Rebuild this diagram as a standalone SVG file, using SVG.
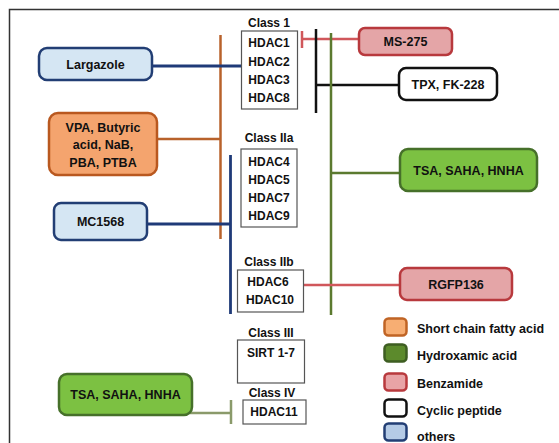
<svg xmlns="http://www.w3.org/2000/svg" width="559" height="443" viewBox="0 0 559 443">
<style>
text{font-family:"Liberation Sans",Arial,sans-serif;font-weight:bold;fill:#111;}
.cls{font-size:12px;text-anchor:middle;}
.hd{font-size:12px;text-anchor:middle;}
.lab{font-size:12.5px;text-anchor:middle;}
.leg{font-size:12.5px;}
.cbox{fill:#fff;stroke:#555;stroke-width:1.2;}
.orange{fill:#f4a46e;stroke:#b9581f;stroke-width:2.5;}
.green{fill:#7cc142;stroke:#46702a;stroke-width:2.5;}
.red{fill:#e4a5a7;stroke:#b8393d;stroke-width:2.5;}
.black{fill:#fff;stroke:#111;stroke-width:2.5;}
.blue{fill:#d5e6f3;stroke:#223e74;stroke-width:2.5;}
.lgreen{fill:#5c8a2c;stroke:#3e5e22;stroke-width:2.5;}
.lblue{fill:#b5cbe6;stroke:#223e74;stroke-width:2.5;}
.lred{fill:#e8a3a6;stroke:#b8393d;stroke-width:2.5;}
.lorange{fill:#f7ae73;stroke:#c06425;stroke-width:2.5;}
.c-or{stroke:#b8622b;stroke-width:2.5;fill:none;}
.c-bl{stroke:#1f3a78;stroke-width:2.8;fill:none;}
.c-gr{stroke:#5b7a2f;stroke-width:2.5;fill:none;}
.c-grl{stroke:#8a9a6a;stroke-width:2.5;fill:none;}
.c-rd{stroke:#d0575b;stroke-width:2.5;fill:none;}
.c-bk{stroke:#111;stroke-width:2.5;fill:none;}
</style>
<rect width="559" height="443" fill="#fff"/>
<path d="M9.5 443 V9.5 H559" fill="none" stroke="#333" stroke-width="1.5"/>

<g id="connectors">
  <path class="c-or" d="M220.5 35 V239"/>
  <path class="c-or" d="M157 139 H220.5"/>
  <path class="c-bl" d="M152 66 H245"/>
  <path class="c-bl" d="M245 40 V84"/>
  <path class="c-bl" d="M147 224 H230.5"/>
  <path class="c-bl" d="M230.5 155 V314"/>
  <path class="c-rd" d="M302 39 H359"/>
  <path class="c-rd" d="M302 31 V48"/>
  <path class="c-bk" d="M316 29 V113"/>
  <path class="c-bk" d="M316 85 H399"/>
  <path class="c-gr" d="M331 33 V315"/>
  <path class="c-gr" d="M331 173 H400"/>
  <path class="c-rd" d="M296 285 H400"/>
  <path class="c-rd" d="M296 275 V291"/>
  <path class="c-grl" d="M182 413 H231"/>
  <path class="c-grl" d="M231 400 V424"/>
</g>

<g id="class1">
  <text class="cls" x="269" y="27">Class 1</text>
  <rect class="cbox" x="241.5" y="31" width="56" height="78"/>
  <text class="hd" x="269" y="47">HDAC1</text>
  <text class="hd" x="269" y="66">HDAC2</text>
  <text class="hd" x="269" y="84">HDAC3</text>
  <text class="hd" x="269" y="102">HDAC8</text>
</g>
<g id="class2a">
  <text class="cls" x="269" y="142">Class IIa</text>
  <rect class="cbox" x="241" y="149" width="56" height="78"/>
  <text class="hd" x="269" y="166">HDAC4</text>
  <text class="hd" x="269" y="184">HDAC5</text>
  <text class="hd" x="269" y="202">HDAC7</text>
  <text class="hd" x="269" y="220">HDAC9</text>
</g>
<g id="class2b">
  <text class="cls" x="269" y="266">Class IIb</text>
  <rect class="cbox" x="237.5" y="270" width="66" height="42"/>
  <text class="hd" x="268" y="286">HDAC6</text>
  <text class="hd" x="270" y="304">HDAC10</text>
</g>
<g id="class3">
  <text class="cls" x="271" y="337">Class III</text>
  <rect class="cbox" x="237.5" y="340" width="67" height="43"/>
  <text class="hd" x="271" y="357">SIRT 1-7</text>
</g>
<g id="class4">
  <text class="cls" x="272" y="397">Class IV</text>
  <rect class="cbox" x="243" y="400" width="63" height="24"/>
  <text class="hd" x="274" y="416">HDAC11</text>
</g>

<g id="largazole">
  <rect class="blue" x="39" y="48" width="113" height="32" rx="8"/>
  <text class="lab" x="95.5" y="69">Largazole</text>
</g>
<g id="vpa">
  <rect class="orange" x="49" y="113" width="108" height="62" rx="9"/>
  <text class="lab" x="103" y="132">VPA, Butyric</text>
  <text class="lab" x="103" y="149">acid, NaB,</text>
  <text class="lab" x="103" y="167">PBA, PTBA</text>
</g>
<g id="mc1568">
  <rect class="blue" x="54" y="203" width="93" height="37" rx="7"/>
  <text class="lab" x="100.5" y="226">MC1568</text>
</g>
<g id="tsa-bottom">
  <rect class="green" x="59" y="374" width="133" height="41" rx="8"/>
  <text class="lab" x="125.5" y="399">TSA, SAHA, HNHA</text>
</g>
<g id="ms275">
  <rect class="red" x="359" y="28" width="93" height="27" rx="6"/>
  <text class="lab" x="405.5" y="46">MS-275</text>
</g>
<g id="tpx">
  <rect class="black" x="399" y="68" width="98" height="32" rx="7"/>
  <text class="lab" x="448" y="89">TPX, FK-228</text>
</g>
<g id="tsa-right">
  <rect class="green" x="400" y="149" width="137" height="42" rx="8"/>
  <text class="lab" x="468.5" y="175">TSA, SAHA, HNHA</text>
</g>
<g id="rgfp136">
  <rect class="red" x="400" y="268" width="112" height="32" rx="7"/>
  <text class="lab" x="456" y="289">RGFP136</text>
</g>

<g id="legend">
  <rect class="lorange" x="384.5" y="318.5" width="22" height="17" rx="4"/>
  <text class="leg" x="417" y="333">Short chain fatty acid</text>
  <rect class="lgreen" x="384.5" y="344.5" width="22" height="17" rx="4"/>
  <text class="leg" x="417" y="360">Hydroxamic acid</text>
  <rect class="lred" x="384.5" y="373.5" width="22" height="17" rx="4"/>
  <text class="leg" x="417" y="388">Benzamide</text>
  <rect class="black" x="384.5" y="399.5" width="22" height="17" rx="4"/>
  <text class="leg" x="417" y="415">Cyclic peptide</text>
  <rect class="lblue" x="384.5" y="423.5" width="22" height="17" rx="4"/>
  <text class="leg" x="417" y="441">others</text>
</g>
</svg>
